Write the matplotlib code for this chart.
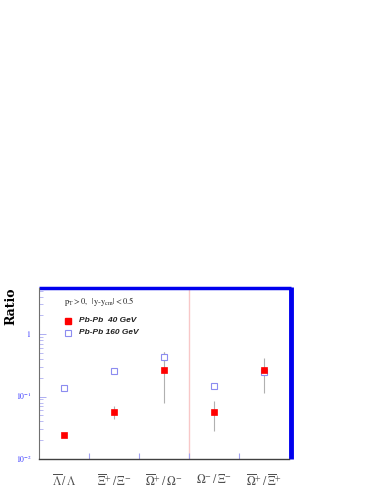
import matplotlib
matplotlib.use("Agg")
import matplotlib.pyplot as plt
import numpy as np

categories = [r"$\overline{\Lambda}\,/\,\Lambda$",
              r"$\overline{\Xi}^{+}\,/\,\Xi^{-}$",
              r"$\overline{\Omega}^{+}\,/\,\Omega^{-}$",
              r"$\Omega^{-}\,/\,\Xi^{-}$",
              r"$\overline{\Omega}^{+}\,/\,\overline{\Xi}^{+}$"]
ratio_40 = [0.024, 0.057, 0.263, 0.057, 0.263]
err40_lo = [0.024, 0.044, 0.078, 0.0276, 0.115]
err40_hi = [0.024, 0.071, 0.52, 0.086, 0.41]
ratio_160 = [0.138, 0.256, 0.43, 0.147, 0.25]
err160_lo = [0.138, 0.256, 0.36, 0.147, 0.25]
err160_hi = [0.138, 0.256, 0.52, 0.147, 0.25]

plt.rcParams['mathtext.fontset'] = 'stix'

fig = plt.figure(figsize=(3.83, 4.95), dpi=100)
ax = fig.add_axes([39/383, 36/495, 250/383, 171/495])

x = np.arange(len(categories)) + 0.5
r40 = np.array(ratio_40); r160 = np.array(ratio_160)

ax.errorbar(x, r160, yerr=[r160 - np.array(err160_lo), np.array(err160_hi) - r160],
            fmt='none', ecolor='#b0b0b0', elinewidth=0.8, capsize=0, zorder=2)
ax.errorbar(x, r40, yerr=[r40 - np.array(err40_lo), np.array(err40_hi) - r40],
            fmt='none', ecolor='#b0b0b0', elinewidth=0.8, capsize=0, zorder=2)
ax.plot(x, r160, 's', ms=5, mfc='white', mec='#8c8cf0', mew=0.8, zorder=3)
ax.plot(x, r40, 's', ms=5, mfc='#ff0000', mec='#ff0000', mew=0.5, zorder=4)

ax.axvline(3, color='#f8c8c8', lw=1.0, zorder=1)

ax.set_yscale('log')
ax.set_ylim(0.01, 5.5)
ax.set_xlim(0, 5)

# spines
for s in ['top', 'right']:
    ax.spines[s].set_visible(False)
ax.spines['left'].set_color('#707070')
ax.spines['left'].set_linewidth(0.8)
ax.spines['bottom'].set_color('#404040')
ax.spines['bottom'].set_linewidth(1.0)
ax.plot([0, 1.006], [1.002, 1.002], transform=ax.transAxes, color='#0000ee', lw=2.5,
        clip_on=False, solid_capstyle='butt')
ax.plot([1.006, 1.006], [0, 1.008], transform=ax.transAxes, color='#0000ee', lw=3.5,
        clip_on=False, solid_capstyle='butt')

# ticks
ax.set_xticks([1, 2, 3, 4])
ax.set_xticklabels([])
ax.tick_params(axis='x', which='both', direction='in', length=4, color='#a0a0f0', width=0.8)
ax.tick_params(axis='x', which='minor', length=0)
ax.set_yticks([0.01, 0.1, 1])
ax.set_yticklabels([])
ax.tick_params(axis='y', which='major', direction='in', length=5, color='#a0a0f0', width=0.6)
ax.tick_params(axis='y', which='minor', direction='in', length=3, color='#a0a0f0', width=0.5)

for v, lab in [(1, r"$1$"), (0.1, r"$10^{-1}$"), (0.01, r"$10^{-2}$")]:
    ax.text(-0.03, v, lab, transform=ax.get_yaxis_transform(), ha='right', va='center',
            fontsize=5.5, color='#3030ff')

for xi, lab in zip(x, categories):
    ax.text(xi, -0.08, lab, transform=ax.get_xaxis_transform(), ha='center', va='top',
            fontsize=8.5, color='#505050')

fig.text(11/383, 1 - 306/495, "Ratio", rotation=90, ha='center', va='center',
         fontsize=9, fontweight='bold', family='DejaVu Serif')

fig.text(64/383, 1 - 302/495, r"$\mathrm{p_T > 0,\ \ |y\text{-}y_{cm}| < 0.5}$",
         ha='left', va='center', fontsize=6, color='#202020')

ax.plot([68/383], [1 - 321/495], 's', transform=fig.transFigure, ms=5, mfc='red', mec='red', clip_on=False)
ax.plot([68/383], [1 - 332.5/495], 's', transform=fig.transFigure, ms=5, mfc='white', mec='#8c8cf0', mew=0.8, clip_on=False)
fig.text(79/383, 1 - 321/495, "Pb-Pb  40 GeV", ha='left', va='center', fontsize=6,
         style='italic', fontweight='bold', color='#202020', family='Liberation Sans')
fig.text(79/383, 1 - 332.5/495, "Pb-Pb 160 GeV", ha='left', va='center', fontsize=6,
         style='italic', fontweight='bold', color='#202020', family='Liberation Sans')

fig.savefig("out.png", dpi=100)
